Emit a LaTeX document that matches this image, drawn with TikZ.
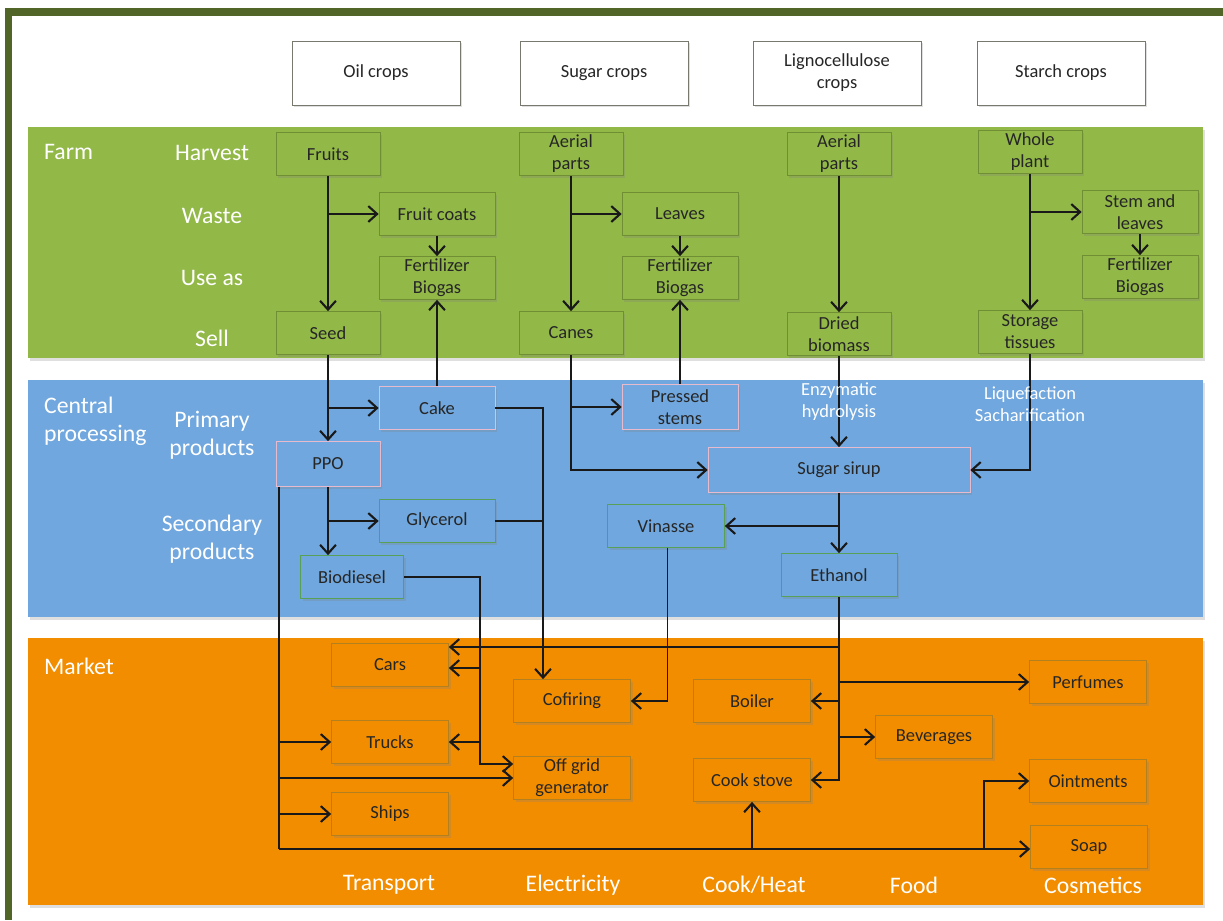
\documentclass[tikz,border=0pt]{standalone}
\usepackage{fontspec}
\setmainfont{Carlito}
\usetikzlibrary{arrows.meta, positioning, shadows}
\usepackage{xcolor}

\definecolor{frame}{RGB}{82,101,40}
\definecolor{farmgreen}{RGB}{146,184,72}
\definecolor{farmline}{RGB}{112,142,52}
\definecolor{procblue}{RGB}{112,167,222}
\definecolor{pinkline}{RGB}{232,186,206}
\definecolor{greenline}{RGB}{88,160,86}
\definecolor{marketorange}{RGB}{242,141,0}
\definecolor{marketline}{RGB}{178,128,30}
\definecolor{cropline}{RGB}{120,120,110}

\begin{document}
\begin{tikzpicture}[x=0.02cm, y=-0.02cm, font=\fontsize{10.5}{12.6}\selectfont]
    \tikzstyle{band}=[drop shadow={shadow xshift=1pt, shadow yshift=-1.5pt, opacity=.25}]
    \tikzstyle{box}=[rectangle, inner sep=0pt, align=center, text=black!85, minimum height=0.86cm, drop shadow={shadow xshift=1.2pt, shadow yshift=-1.2pt, opacity=.25}]
    \tikzstyle{crop}=[box, draw=cropline, fill=white, minimum width=3.36cm, minimum height=1.28cm]
    \tikzstyle{farm}=[box, draw=farmline, fill=farmgreen, minimum width=2.08cm]
    \tikzstyle{farm wide}=[farm, minimum width=2.32cm]
    \tikzstyle{primary}=[box, draw=pinkline, fill=procblue, minimum width=2.32cm]
    \tikzstyle{secondary}=[box, draw=greenline, fill=procblue, minimum width=2.32cm]
    \tikzstyle{market}=[box, draw=marketline, fill=marketorange, minimum width=2.34cm]
    \tikzstyle{rowlabel}=[text=white, align=center, font=\fontsize{13.5}{16}\selectfont]
    \tikzstyle{note}=[text=white, align=center]
    \tikzstyle{link}=[draw=black!90, line width=0.8pt]
    \tikzstyle{flow}=[link, -{Straight Barb[length=5pt, width=9pt, line width=1.2pt]}]

    \useasboundingbox (0,0) rectangle (1223,920);
    \fill[white] (0,0) rectangle (1223,920);
    \fill[frame] (5,8) rectangle (1223,16);
    \fill[frame] (5,8) rectangle (12,920);

%   the three stages
    \fill[farmgreen, band] (28,127) rectangle (1203,358);
    \fill[procblue, band] (28,380) rectangle (1203,617);
    \fill[marketorange, band] (28,638) rectangle (1203,905);

    \node[rowlabel, anchor=west] (farmlbl) at (38,152) {Farm};
    \node[rowlabel, anchor=west, align=left] (proclbl) at (38,421) {Central\\processing};
    \node[rowlabel, anchor=west] (marketlbl) at (38,666) {Market};

    \foreach \y/\name/\txt in {153/harvest/Harvest, 216/waste/Waste, 278/useas/Use as, 338/sell/Sell, 435/primarylbl/{Primary\\products}, 539/secondarylbl/{Secondary\\products}}
        \node[rowlabel] (\name) at (212,\y) {\txt};

    \foreach \x/\name/\txt in {389/transport/Transport, 573/electricity/Electricity, 754/cookheat/{Cook/Heat}, 914/food/Food, 1093/cosmetics/Cosmetics}
        \node[rowlabel] (\name) at (\x,885) {\txt};

    \foreach \x/\name/\txt in {376/oil/Oil crops, 604/sugar/Sugar crops, 837/ligno/{Lignocellulose\\crops}, 1061/starch/Starch crops}
        \node[crop] (\name) at (\x,73) {\txt};

%   farm
    \node[farm] (fruits) at (328,154) {Fruits};
    \node[farm wide] (fcoats) at (437,214) {Fruit coats};
    \node[farm wide] (oilfert) at (437,278) {Fertilizer\\Biogas};
    \node[farm] (seed) at (328,333) {Seed};
    \node[farm] (saerial) at (571,154) {Aerial\\parts};
    \node[farm wide] (leaves) at (680,214) {Leaves};
    \node[farm wide] (sugarfert) at (680,278) {Fertilizer\\Biogas};
    \node[farm] (canes) at (571,333) {Canes};
    \node[farm] (laerial) at (839,154) {Aerial\\parts};
    \node[farm] (dried) at (839,334) {Dried\\biomass};
    \node[farm] (whole) at (1030,152) {Whole\\plant};
    \node[farm wide] (stemleaves) at (1140,212) {Stem and\\leaves};
    \node[farm wide] (starchfert) at (1140,277) {Fertilizer\\Biogas};
    \node[farm] (storage) at (1030,332) {Storage\\tissues};

%   central processing
    \node[primary] (cake) at (437,408) {Cake};
    \node[primary, minimum width=2.08cm, minimum height=0.9cm] (ppo) at (328,464) {PPO};
    \node[secondary] (glycerol) at (437,521) {Glycerol};
    \node[secondary, minimum width=2.06cm] (biodiesel) at (352,577) {Biodiesel};
    \node[primary, minimum height=0.9cm] (pressed) at (680,407) {Pressed\\stems};
    \node[primary, minimum width=5.24cm, minimum height=0.9cm] (sirup) at (839,470) {Sugar sirup};
    \node[secondary, minimum width=2.34cm] (vinasse) at (666,526) {Vinasse};
    \node[secondary] (ethanol) at (839,575) {Ethanol};

%   market
    \node[market] (cars) at (390,665) {Cars};
    \node[market] (trucks) at (390,742) {Trucks};
    \node[market] (ships) at (390,814) {Ships};
    \node[market] (cofiring) at (572,701) {Cofiring};
    \node[market] (offgrid) at (572,778) {Off grid\\generator};
    \node[market] (boiler) at (752,701) {Boiler};
    \node[market] (cookstove) at (752,780) {Cook stove};
    \node[market] (beverages) at (934,737) {Beverages};
    \node[market] (perfumes) at (1088,682) {Perfumes};
    \node[market] (ointments) at (1088,781) {Ointments};
    \node[market] (soap) at (1089,847) {Soap};

%   oil crops
    \draw[flow] (fruits) -- (seed);
    \draw[flow] (fruits |- fcoats) -- (fcoats);
    \draw[flow] (fcoats) -- (oilfert);
    \draw[flow] (seed) -- (ppo);
    \draw[flow] (seed |- cake) -- (cake);
    \draw[flow] (cake) -- (oilfert);
    \draw[flow] (ppo) -- (ppo |- biodiesel.north);
    \draw[flow] (ppo |- glycerol) -- (glycerol);

    \coordinate (cakedrop) at (543,408);
    \draw[flow] (cake) -- (cakedrop) -- (cakedrop |- cofiring.north);
    \draw[link] (glycerol) -- (glycerol -| cakedrop);

    \coordinate (bcars) at (480,668);
    \coordinate (btrucks) at (480,742);
    \coordinate (boff) at (480,764);
    \draw[flow] (biodiesel) -| (boff) -- (offgrid.west |- boff);
    \draw[flow] (bcars) -- (cars.east |- bcars);
    \draw[flow] (btrucks) -- (trucks);

    \coordinate (ptop) at (279,487);
    \coordinate (pbottom) at (279,849);
    \coordinate (ojoin) at (984,849);
    \draw[link] (ptop) -- (pbottom);
    \draw[flow] (ptop |- trucks) -- (trucks);
    \draw[flow] (ptop |- offgrid) -- (offgrid);
    \draw[flow] (ptop |- ships) -- (ships);
    \draw[flow] (pbottom) -- (soap.west |- pbottom);
    \draw[flow] (cookstove |- pbottom) -- (cookstove);
    \draw[flow] (ojoin) |- (ointments);

%   sugar crops
    \draw[flow] (saerial) -- (canes);
    \draw[flow] (saerial |- leaves) -- (leaves);
    \draw[flow] (leaves) -- (sugarfert);
    \draw[flow] (canes) |- (sirup);
    \draw[flow] (canes |- pressed) -- (pressed);
    \draw[flow] (pressed) -- (sugarfert);

%   lignocellulose and starch
    \draw[flow] (laerial) -- (dried);
    \draw[flow] (dried) -- (sirup);
    \draw[flow] (whole) -- (storage);
    \draw[flow] (whole |- stemleaves) -- (stemleaves);
    \draw[flow] (stemleaves) -- (starchfert);
    \draw[flow] (storage) |- (sirup);

    \node[note] (enzym) at (839,402) {Enzymatic\\hydrolysis};
    \node[note] (liquef) at (1030,404) {Liquefaction\\Sacharification};

%   sugar sirup to market
    \draw[flow] (sirup) -- (ethanol);
    \draw[flow] (sirup |- vinasse) -- (vinasse);
    \draw[flow] ([xshift=1pt]vinasse.south) |- (cofiring);

    \coordinate (edrop) at (839,780);
    \coordinate (ecars) at (839,647);
    \draw[flow] (ethanol) -- (edrop) -- (cookstove);
    \draw[flow] (ecars) -- (cars.east |- ecars);
    \draw[flow] (ethanol |- perfumes) -- (perfumes);
    \draw[flow] (ethanol |- boiler) -- (boiler);
    \draw[flow] (ethanol |- beverages) -- (beverages);
\end{tikzpicture}
\end{document}
